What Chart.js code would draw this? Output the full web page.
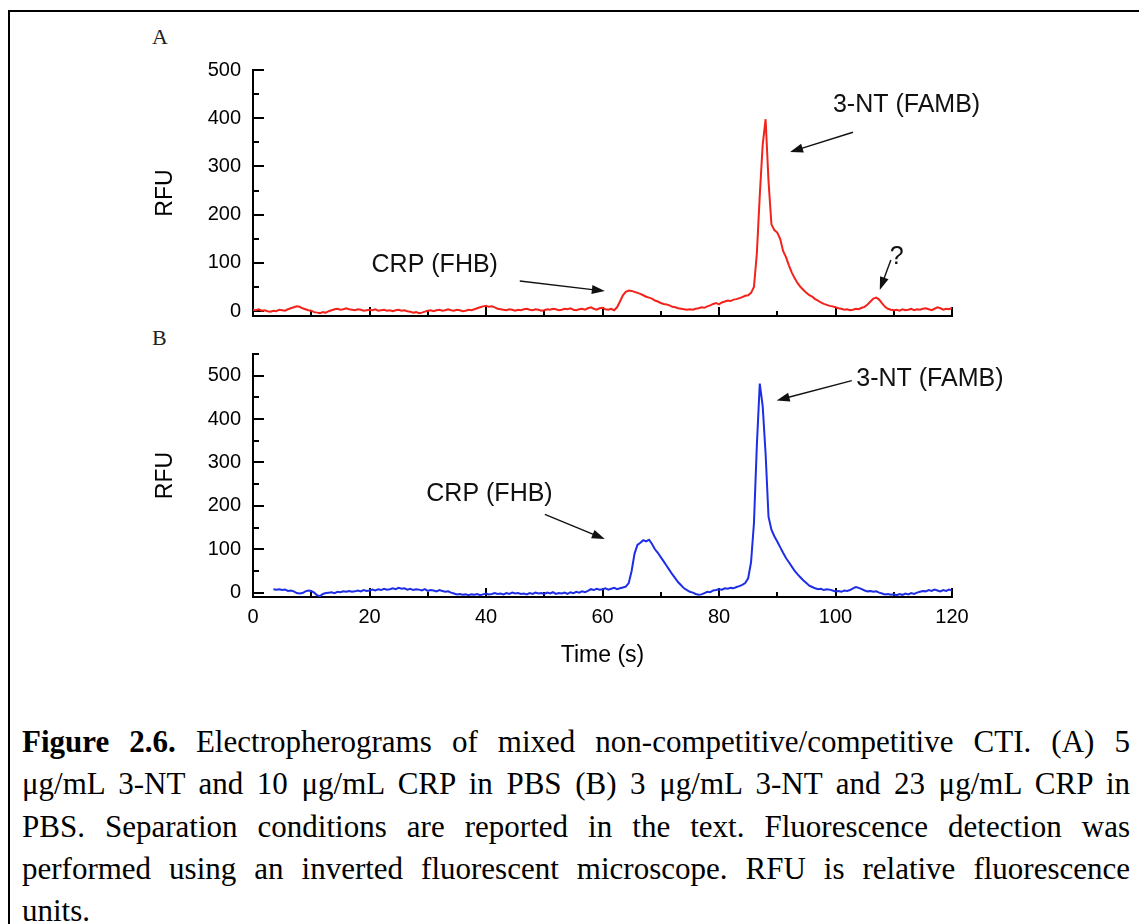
<!DOCTYPE html>
<html>
<head>
<meta charset="utf-8">
<title>Electropherograms of mixed CTI</title>
<script src="https://cdn.jsdelivr.net/npm/chart.js"></script>
<style>
  body { margin: 0; background: #fff; width: 1139px; height: 924px; overflow: hidden; position: relative;
         font-family: "Liberation Serif", "Times New Roman", serif; }
  #frame { position: absolute; left: 8px; top: 10px; width: 1300px; height: 1000px;
           border-left: 2px solid #000; border-top: 2px solid #000; }
  .panel { position: absolute; left: 0; width: 1139px; }
  #panelA { top: 0; height: 340px; }
  #panelB { top: 330px; height: 360px; }
  .tag { position: absolute; font-size: 22px; line-height: 1; color: #222; }
  #caption { position: absolute; left: 22px; top: 721px; width: 1108px; font-size: 31px; line-height: 42.3px; color: #000; }
  #caption .ln { text-align: justify; text-align-last: justify; }
</style>
</head>
<body>
<div id="frame"></div>
<div class="tag" style="left:152px; top:26px;">A</div>
<div class="tag" style="left:152px; top:327px;">B</div>
<div class="panel" id="panelA"><canvas id="chartA"></canvas></div>
<div class="panel" id="panelB"><canvas id="chartB"></canvas></div>
<div id="caption">
  <div class="ln"><b>Figure 2.6.</b> Electropherograms of mixed non-competitive/competitive CTI. (A) 5</div>
  <div class="ln">μg/mL 3-NT and 10 μg/mL CRP in PBS (B) 3 μg/mL 3-NT and 23 μg/mL CRP in</div>
  <div class="ln">PBS. Separation conditions are reported in the text. Fluorescence detection was</div>
  <div class="ln">performed using an inverted fluorescent microscope. RFU is relative fluorescence</div>
  <div>units.</div>
</div>
<script>
// traces are sampled every 0.5 s
const startA = 0, stepA = 0.5;
const rfuA = [
  3, 2, 4, 1, 2, 0, -1, 1, 0, 3, 2, 1, 4, 6, 8, 10, 9, 6, 4, 2,
  1, -2, -3, -4, -2, -3, 0, 2, 4, 5, 3, 4, 6, 4, 3, 2, 4, 3, 1, 2,
  3, 2, 4, 1, 2, 3, 1, 2, 0, 2, 3, 1, 2, 0, -1, -3, -2, -4, -3, -1,
  1, 2, 0, 2, 3, 1, 2, 4, 2, 1, 3, 2, 0, 1, 3, 2, 4, 6, 8, 10,
  11, 9, 10, 8, 5, 4, 3, 2, 4, 3, 1, 3, 2, 4, 5, 3, 2, 4, 3, 1,
  2, 4, 3, 5, 4, 2, 3, 5, 4, 6, 3, 2, 4, 5, 3, 6, 8, 5, 3, 6,
  7, 4, 3, 5, 2, 8, 20, 33, 40, 43, 42, 40, 38, 36, 33, 30, 28, 26, 22, 20,
  17, 15, 14, 12, 9, 8, 6, 5, 4, 3, 4, 3, 5, 6, 8, 7, 10, 12, 15, 17,
  14, 18, 20, 22, 21, 24, 25, 27, 29, 32, 33, 38, 50, 120, 240, 345, 398, 270, 180, 168,
  163, 150, 125, 112, 95, 80, 68, 58, 50, 44, 38, 33, 30, 25, 22, 18, 15, 13, 11, 10,
  8, 6, 5, 3, 4, 2, 3, 5, 4, 7, 9, 14, 20, 26, 28, 24, 16, 9, 5, 3,
  2, 3, 1, 4, 2, 3, 5, 2, 4, 3, 5, 6, 4, 2, 5, 8, 6, 3, 5, 4, 7
];

const startB = 3.5, stepB = 0.5;
const rfuB = [
  8, 7, 8, 6, 7, 4, 5, 3, -1, -2, -1, 3, 5,
  4, 0, -6, -8, -3, -1, 0, 1, -1, 2, 1, 3, 2, 4, 2, 3, 5, 3, 6, 4,
  5, 7, 5, 8, 6, 9, 7, 8, 10, 8, 11, 9, 10, 7, 9, 6, 8, 7, 5, 8,
  4, 6, 5, 3, 6, 4, 2, 3, 0, -2, -4, -3, -5, -4, -6, -4, -5, -3, -6, -4,
  -2, -4, -3, -1, -3, -2, -4, -1, -3, 0, -2, -1, -3, -2, -4, -1, -3, 0, -2, -1,
  -3, 0, -2, 1, -3, -1, -2, 0, -3, 1, -1, 2, 0, 3, 1, 4, 8, 6, 9, 7,
  8, 10, 7, 9, 11, 8, 10, 12, 14, 22, 50, 90, 110, 115, 121, 118, 122, 112, 100, 92,
  82, 72, 62, 52, 42, 33, 24, 17, 10, 6, 2, 0, -3, -5, -4, -1, 2, 1, 5, 6,
  8, 7, 10, 9, 11, 10, 13, 15, 18, 22, 33, 70, 160, 340, 482, 430, 320, 175, 145, 130,
  118, 105, 92, 80, 70, 60, 50, 42, 35, 28, 22, 16, 13, 10, 8, 9, 6, 8, 7, 5,
  3, 4, 2, 5, 4, 6, 10, 13, 11, 8, 5, 3, 4, 2, 3, 0, -2, -4, -3, -5,
  -4, -6, -3, -5, -2, -4, -1, -3, 0, 2, 4, 3, 6, 4, 7, 5, 3, 6, 4, 7, 5
];

const timeLabels = [0, 20, 40, 60, 80, 100, 120];
const rfuLabels = [0, 100, 200, 300, 400, 500];

// peak callouts, placed in data units
const notesA = [
  { text: 'CRP (FHB)', at: [31.2, 96] },
  { text: '3-NT (FAMB)', at: [112.2, 427] },
  { text: '?', at: [110.5, 113] }
];
const arrowsA = [
  { from: [45.8, 62.6], to: [60.4, 41.7] },
  { from: [103.0, 371], to: [92.2, 330] },
  { from: [109.5, 106], to: [107.6, 44] }
];
const notesB = [
  { text: 'CRP (FHB)', at: [40.6, 227] },
  { text: '3-NT (FAMB)', at: [116.2, 493] }
];
const arrowsB = [
  { from: [50.1, 180.5], to: [60.4, 123.6] },
  { from: [102.8, 488.5], to: [89.9, 443] }
];

Chart.defaults.font.family = '"Liberation Sans", Arial, sans-serif';
Chart.defaults.color = '#000';

function toPoints(start, step, values) {
  return values.map((v, i) => ({ x: start + i * step, y: v }));
}

function drawArrow(ctx, x1, y1, x2, y2) {
  const ang = Math.atan2(y2 - y1, x2 - x1);
  const head = 13, half = 4.5;
  ctx.beginPath();
  ctx.moveTo(x1, y1);
  ctx.lineTo(x2 - head * 0.8 * Math.cos(ang), y2 - head * 0.8 * Math.sin(ang));
  ctx.stroke();
  ctx.beginPath();
  ctx.moveTo(x2, y2);
  ctx.lineTo(x2 - head * Math.cos(ang) + half * Math.sin(ang), y2 - head * Math.sin(ang) - half * Math.cos(ang));
  ctx.lineTo(x2 - head * Math.cos(ang) - half * Math.sin(ang), y2 - head * Math.sin(ang) + half * Math.cos(ang));
  ctx.closePath();
  ctx.fill();
}

// inward tick marks (major every 100 RFU / 20 s)
const inwardTicks = {
  id: 'inwardTicks',
  beforeDatasetsDraw(chart) {
    const { ctx, scales: { x, y } } = chart;
    ctx.save();
    ctx.strokeStyle = '#000';
    ctx.lineWidth = 2;
    ctx.beginPath();
    y.ticks.forEach(t => {
      const py = Math.round(y.getPixelForValue(t.value));
      const len = rfuLabels.includes(t.value) ? 11 : 6;
      ctx.moveTo(x.left, py);
      ctx.lineTo(x.left + len, py);
    });
    x.ticks.forEach(t => {
      const px = Math.round(x.getPixelForValue(t.value));
      const len = timeLabels.includes(t.value) ? 9 : 5;
      ctx.moveTo(px, y.bottom);
      ctx.lineTo(px, y.bottom - len);
    });
    ctx.stroke();
    ctx.restore();
  }
};

const callouts = {
  id: 'callouts',
  afterDraw(chart, args, opts) {
    const { ctx, scales: { x, y } } = chart;
    ctx.save();
    ctx.fillStyle = '#111';
    ctx.strokeStyle = '#111';
    ctx.lineWidth = 1.4;
    ctx.font = '25px "Liberation Sans", Arial, sans-serif';
    ctx.textAlign = 'center';
    ctx.textBaseline = 'middle';
    opts.notes.forEach(n => {
      ctx.fillText(n.text, x.getPixelForValue(n.at[0]), y.getPixelForValue(n.at[1]));
    });
    opts.arrows.forEach(a => {
      drawArrow(ctx,
        x.getPixelForValue(a.from[0]), y.getPixelForValue(a.from[1]),
        x.getPixelForValue(a.to[0]), y.getPixelForValue(a.to[1]));
    });
    ctx.restore();
  }
};

function makePanel(id, points, color, yMax, padTop, xHeight, showTime, notes, arrows) {
  return new Chart(document.getElementById(id), {
    type: 'line',
    data: {
      datasets: [{
        data: points,
        borderColor: color,
        borderWidth: 2,
        pointRadius: 0,
        tension: 0,
        fill: false
      }]
    },
    options: {
      animation: false,
      responsive: true,
      maintainAspectRatio: false,
      events: [],
      layout: { padding: { top: padTop, right: 187, left: 0, bottom: 0 } },
      scales: {
        x: {
          type: 'linear',
          min: 0,
          max: 120,
          afterFit: s => { s.height = xHeight; },
          grid: { display: false, drawTicks: false },
          border: { display: true, color: '#000', width: 2 },
          ticks: {
            display: showTime,
            stepSize: 10,
            autoSkip: false,
            maxRotation: 0,
            padding: 8,
            font: { size: 20 },
            callback: v => timeLabels.includes(v) ? v : ''
          },
          title: {
            display: showTime,
            text: 'Time (s)',
            font: { size: 23 },
            padding: { top: 0, bottom: 21 }
          }
        },
        y: {
          min: -10,
          max: yMax,
          afterFit: s => { s.width = 253; },
          grid: { display: false, drawTicks: false },
          border: { display: true, color: '#000', width: 2 },
          ticks: {
            stepSize: 50,
            includeBounds: false,
            autoSkip: false,
            padding: 12,
            font: { size: 20 },
            callback: v => rfuLabels.includes(v) ? v : ''
          },
          title: {
            display: true,
            text: 'RFU',
            font: { size: 23 },
            padding: { top: 152, bottom: 0 }
          }
        }
      },
      plugins: {
        legend: { display: false },
        tooltip: { enabled: false },
        callouts: { notes: notes, arrows: arrows }
      }
    },
    plugins: [inwardTicks, callouts]
  });
}

makePanel('chartA', toPoints(startA, stepA, rfuA), '#f2231b', 500, 70, 24, false, notesA, arrowsA);
makePanel('chartB', toPoints(startB, stepB, rfuB), '#1d2ee6', 550, 21, 93, true, notesB, arrowsB);
</script>
</body>
</html>
